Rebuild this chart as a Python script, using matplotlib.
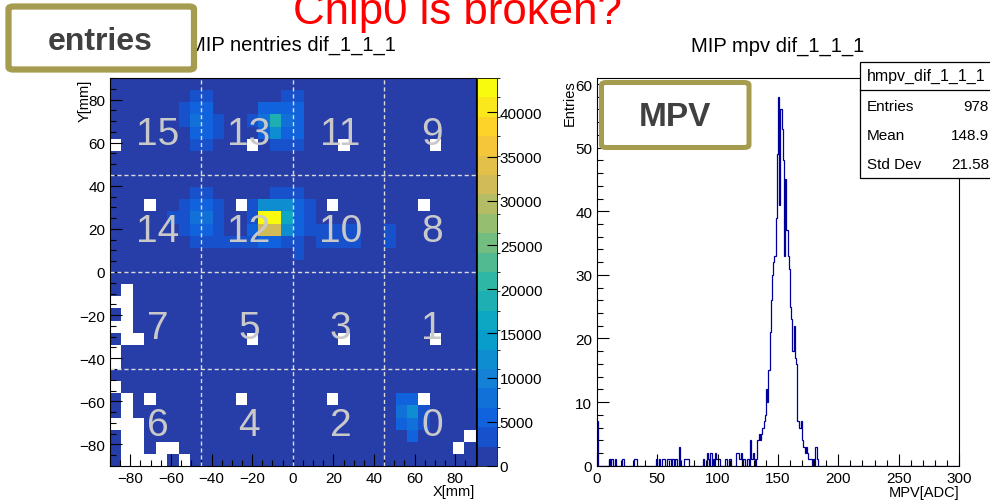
import numpy as np
import matplotlib
matplotlib.use("Agg")
import matplotlib.pyplot as plt
from matplotlib.colors import ListedColormap, BoundaryNorm, LinearSegmentedColormap
from matplotlib.patches import FancyBboxPatch, Rectangle
from matplotlib.lines import Line2D
from matplotlib.ticker import MultipleLocator

plt.rcParams['font.family'] = ['Liberation Sans', 'DejaVu Sans']

W_PX, H_PX = 990, 502

# ── Hit map: 32 x 32 pads (5.625 mm pitch), rows from the top edge (y = +90 mm) ──
# '.' = empty pad, 'o' = ordinary pad, other codes = brighter pads
PAD_LEVEL = {'.': 0, 'o': 1200, '1': 3300, '2': 5500, '3': 7700, '4': 9900,
             '5': 12000, '7': 16500, '8': 18700, 'E': 32000, 'Y': 43900}

HITMAP_ROWS = [
    "oooooooooooooooooooooooooooooooo",
    "ooooooo11oooooo11ooooooooooooooo",
    "oooooo122oooo2222ooooooooooooooo",
    "oooooo1321oo13832ooooooooooooooo",
    "ooooooo221ooo2522ooooooooooooooo",
    ".oooooo11ooo.o111ooo.ooooooo.ooo",
    "oooooooooooooooooooooooooooooooo",
    "oooooooooooooooooooooooooooooooo",
    "oooooooooooooooooooooooooooooooo",
    "ooooooo11ooooo111ooooooooooooooo",
    "ooo.oo1221o.155521o.ooooooo.oooo",
    "ooooo11331oo1YY721oooooooooooooo",
    "oooooo1221oo2EE5211111oo1ooooooo",
    "ooooooo1111112211o1111oo1ooooooo",
    "oooooooooooooooo1ooooooooooooooo",
    "oooooooooooooooooooooooooooooooo",
    "oooooooooooooooooooooooooooooooo",
    "o.oooooooooooooooooooooooooooooo",
    "..oooooooooooooooooooooooooooooo",
    "o.oooooooooooooooooooooooooooooo",
    "..oooooooooooooooooooooooooooooo",
    "o..ooooooooo.ooooooo.ooooooo.ooo",
    ".ooooooooooooooooooooooooooooooo",
    ".ooooooooooooooooooooooooooooooo",
    "oooooooooooooooooooooooooooooooo",
    ".ooooooooooooooooooooooooooooooo",
    "o.o.ooooooo.ooooooo.ooooo22.oooo",
    "o.ooooooooooooooooooooooo351oooo",
    "...oooooooooooooooooooooo231oooo",
    "o..ooooooooooooooooooooooo2oooo.",
    "o..o..oooooooooooooooooooooooo.o",
    "o....o.ooooooooooooooooooooooooo",
]

CHIP_LABELS = [[15, 13, 11, 9],
               [14, 12, 10, 8],
               [7, 5, 3, 1],
               [6, 4, 2, 0]]
CHIP_CENTERS = [-67.5, -22.5, 22.5, 67.5]
CHIP_EDGES = [-45, 0, 45]

# ── MPV histogram: 1 ADC bins on 0-300, only filled bins listed ──
MPV_BINS = [0, 10, 12, 15, 21, 31, 32, 49, 51, 54, 55, 58, 59, 60, 62, 63, 65,
            68, 72, 73, 74, 75, 88, 91, 92, 94, 96, 98, 99, 100, 101,
            106, 107, 109, 110, 115, 116, 117, 118, 119, 121, 122, 124,
            125, 127, 128, 129, 130, 132,
            133, 134, 135, 136, 137, 138, 139, 140, 141, 142, 143, 144,
            145, 146, 147, 148, 149, 150, 151, 152, 153, 154, 155, 156,
            157, 158, 159, 160, 161, 162, 163, 164, 165, 166, 167, 168,
            169, 170, 171, 172, 173, 174, 175, 176, 177, 179, 181, 182]
MPV_COUNTS = [7, 1, 1, 1, 1, 1, 1, 1, 1, 1, 1, 1, 1, 1, 1, 1, 1,
              3, 1, 1, 1, 1, 1, 2, 1, 2, 1, 2, 1, 1, 1,
              1, 1, 1, 1, 2, 2, 2, 1, 2, 1, 1, 1,
              1, 4, 1, 2, 1, 1,
              4, 5, 4, 5, 6, 7, 8, 12, 10, 15, 21, 26,
              30, 32, 33, 39, 49, 58, 41, 56, 53, 48, 33, 45,
              37, 33, 31, 25, 23, 18, 22, 17, 16, 7, 6, 6,
              7, 4, 3, 2, 3, 2, 1, 1, 1, 1, 3, 1]
STATS_NAME = "hmpv_dif_1_1_1"
STATS_ROWS = [("Entries", "978"), ("Mean", "148.9"), ("Std Dev", "21.58")]

# ── ROOT kBird palette, 20 contour levels ──
BIRD_STOPS = [0.0, 0.125, 0.25, 0.375, 0.5, 0.625, 0.75, 0.875, 1.0]
BIRD_R = [0.2082, 0.0592, 0.0780, 0.0232, 0.1802, 0.5301, 0.8186, 0.9956, 0.9764]
BIRD_G = [0.1664, 0.3599, 0.5041, 0.6419, 0.7178, 0.7492, 0.7328, 0.7862, 0.9832]
BIRD_B = [0.5293, 0.8684, 0.8385, 0.7914, 0.6425, 0.4662, 0.3499, 0.1968, 0.0539]
N_CONT = 20

bird = LinearSegmentedColormap.from_list(
    "bird", list(zip(BIRD_STOPS, zip(BIRD_R, BIRD_G, BIRD_B))), N=255)
band_colors = [bird(int((i + 0.99) * 255 / N_CONT) / 254) for i in range(N_CONT)]
band_cmap = ListedColormap(band_colors)
band_cmap.set_over(band_colors[-1])


def fx(x):
    return x / W_PX


def fy(y):
    return 1 - y / H_PX


def rect(left, top, right, bottom):
    return [fx(left), fy(bottom), (right - left) / W_PX, (bottom - top) / H_PX]


fig = plt.figure(figsize=(W_PX / 100, H_PX / 100), dpi=100)

ax_map = fig.add_axes(rect(110, 79, 475.5, 467))
cax = fig.add_axes(rect(476.5, 79, 497, 467))
ax_mpv = fig.add_axes(rect(597, 79.3, 959, 466.7))

tick_kw = dict(direction='in', labelsize=11, width=0.8)

# ── Left: pad occupancy map ──
grid = np.array([[PAD_LEVEL[c] for c in row] for row in HITMAP_ROWS], float)[::-1]
zmax = grid.max()
norm = BoundaryNorm(np.linspace(0, zmax, N_CONT + 1), N_CONT)
edges = np.linspace(-90, 90, 33)
mesh = ax_map.pcolormesh(edges, edges, np.ma.masked_equal(grid, 0),
                         cmap=band_cmap, norm=norm)

for v in CHIP_EDGES:
    ax_map.axvline(v, color='#DADADA', lw=1, ls=(0, (3, 2)), zorder=3)
    ax_map.axhline(v, color='#DADADA', lw=1, ls=(0, (3, 2)), zorder=3)

for r, row in enumerate(CHIP_LABELS):
    for c, num in enumerate(row):
        ax_map.text(CHIP_CENTERS[c] + 1, CHIP_CENTERS[::-1][r] - 8, str(num),
                    color='#C9C9C9', fontsize=28, ha='center', va='baseline',
                    zorder=4)

ax_map.set_xlim(-90, 90)
ax_map.set_ylim(-90, 90)
ax_map.xaxis.set_major_locator(MultipleLocator(20))
ax_map.xaxis.set_minor_locator(MultipleLocator(5))
ax_map.yaxis.set_major_locator(MultipleLocator(20))
ax_map.yaxis.set_minor_locator(MultipleLocator(5))
ax_map.tick_params(which='major', length=8.5, pad=3.5, **tick_kw)
ax_map.tick_params(which='minor', direction='in', length=4.3, width=0.8)
for s in ax_map.spines.values():
    s.set_linewidth(0.8)
    s.set_zorder(5)

cb = fig.colorbar(mesh, cax=cax, ticks=np.arange(0, 45000, 5000))
cb.outline.set_linewidth(0.6)
cax.tick_params(direction='in', length=7, width=0.8, labelsize=11, pad=2)

# ── Right: MPV distribution ──
counts = np.zeros(300)
counts[MPV_BINS] = MPV_COUNTS
ax_mpv.stairs(counts, np.arange(301), color='#000099', lw=0.9, baseline=0)
ax_mpv.set_xlim(0, 300)
ax_mpv.set_ylim(0, 60.9)
ax_mpv.xaxis.set_major_locator(MultipleLocator(50))
ax_mpv.xaxis.set_minor_locator(MultipleLocator(10))
ax_mpv.yaxis.set_major_locator(MultipleLocator(10))
ax_mpv.yaxis.set_minor_locator(MultipleLocator(2))
ax_mpv.tick_params(which='major', length=8.5, pad=3.5, **tick_kw)
ax_mpv.tick_params(which='minor', direction='in', length=4.3, width=0.8)
for s in ax_mpv.spines.values():
    s.set_linewidth(0.8)

# ── Titles and axis titles ──
fig.text(fx(292.5), fy(45), "MIP nentries dif_1_1_1", fontsize=14.5,
         ha='center', va='center')
fig.text(fx(778), fy(46), "MIP mpv dif_1_1_1", fontsize=14.5,
         ha='center', va='center')
fig.text(fx(475), fy(492), "X[mm]", fontsize=10.5, ha='right', va='center')
fig.text(fx(85), fy(80), "Y[mm]", fontsize=10.5, ha='center', va='top',
         rotation=90)
fig.text(fx(959), fy(493), "MPV[ADC]", fontsize=10.5, ha='right', va='center')
fig.text(fx(570), fy(80), "Entries", fontsize=10.5, ha='center', va='top',
         rotation=90)

fig.text(fx(457), fy(24), "Chip0 is broken?", color='red', fontsize=31.5,
         ha='center', va='baseline')

# ── Statistics box ──
fig.add_artist(Rectangle((fx(859.5), fy(179)), (1000 - 859.5) / W_PX,
                         (179 - 62.5) / H_PX, transform=fig.transFigure,
                         facecolor='white', edgecolor='black', lw=0.9, zorder=5))
fig.add_artist(Line2D([fx(859.5), fx(1000)], [fy(91), fy(91)],
                      transform=fig.transFigure, color='black', lw=0.9, zorder=6))
fig.text(fx(867), fy(76.5), STATS_NAME, fontsize=11.5, ha='left', va='center',
         zorder=7)
for k, (name, val) in enumerate(STATS_ROWS):
    y = 107 + 29 * k
    fig.text(fx(867), fy(y), name, fontsize=11, ha='left', va='center', zorder=7)
    fig.text(fx(989), fy(y), val, fontsize=11, ha='right', va='center', zorder=7)

# ── Annotation boxes ──
OLIVE = '#A69C50'
fig.add_artist(FancyBboxPatch((fx(8.5), fy(70.5)), (194 - 8.5) / W_PX,
                              (70.5 - 7.5) / H_PX,
                              boxstyle="round,pad=0,rounding_size=0.005",
                              transform=fig.transFigure, facecolor='white',
                              edgecolor=OLIVE, lw=4.5, zorder=8))
fig.text(fx(100), fy(42), "entries", fontsize=23, fontweight='bold',
         color='#404040', ha='center', va='center', zorder=9)

fig.add_artist(FancyBboxPatch((fx(601.5), fy(148.5)), (749 - 601.5) / W_PX,
                              (148.5 - 83.5) / H_PX,
                              boxstyle="round,pad=0,rounding_size=0.005",
                              transform=fig.transFigure, facecolor='white',
                              edgecolor=OLIVE, lw=3.6, zorder=8))
fig.text(fx(675), fy(117), "MPV", fontsize=24, fontweight='bold',
         color='#404040', ha='center', va='center', zorder=9)

fig.savefig("out.png", dpi=100)
